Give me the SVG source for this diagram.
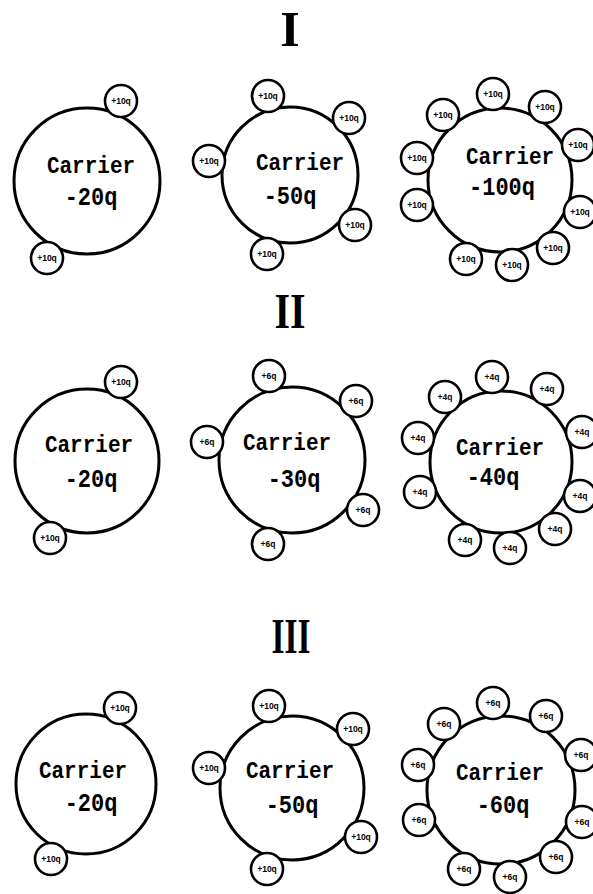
<svg xmlns="http://www.w3.org/2000/svg" width="593" height="894" viewBox="0 0 593 894">
<style>
.big{fill:#fff;stroke:#000;stroke-width:3}
.sm{fill:#fff;stroke:#000;stroke-width:2.6}
.lbl{font-family:"Liberation Mono","DejaVu Sans Mono",monospace;font-weight:bold;font-size:21px;fill:#000;text-anchor:middle}
.num{font-family:"Liberation Mono","DejaVu Sans Mono",monospace;font-weight:bold;font-size:22px;fill:#000;text-anchor:middle}
.q{font-family:"Liberation Sans",Arial,sans-serif;font-weight:bold;font-size:8.5px;fill:#000;text-anchor:middle}
.hdr{font-family:"Liberation Serif","Times New Roman",serif;font-weight:bold;font-size:50px;fill:#000;text-anchor:middle}
</style>
<defs>
<g id="c10"><circle class="sm" r="16"/><text class="q" y="3">+10q</text></g>
<g id="c6"><circle class="sm" r="16"/><text class="q" y="3">+6q</text></g>
<g id="c4"><circle class="sm" r="16"/><text class="q" y="3">+4q</text></g>
</defs>
<rect width="593" height="894" fill="#fff"/>

<text id="hdr1" class="hdr" x="290" y="46">I</text>
<text id="hdr2" class="hdr" x="290" y="328" textLength="31" lengthAdjust="spacingAndGlyphs">II</text>
<text id="hdr3" class="hdr" x="291" y="653" textLength="39" lengthAdjust="spacingAndGlyphs">III</text>

<g id="connectors"/>

<!-- Row I -->
<g id="carrier-1a">
<circle class="big" cx="87" cy="181" r="73"/>
<text class="lbl" transform="translate(91,173) scale(1,1.15)">Carrier</text>
<text class="num" transform="translate(91,205) scale(1,1.15)">-20q</text>
<use href="#c10" x="121" y="101"/>
<use href="#c10" x="47" y="258"/>
</g>
<g id="carrier-1b">
<circle class="big" cx="290" cy="175" r="68"/>
<text class="lbl" transform="translate(300,170) scale(1,1.15)">Carrier</text>
<text class="num" transform="translate(290,204) scale(1,1.15)">-50q</text>
<use href="#c10" x="268" y="96"/>
<use href="#c10" x="349" y="118"/>
<use href="#c10" x="209" y="161"/>
<use href="#c10" x="355" y="225"/>
<use href="#c10" x="267" y="254"/>
</g>
<g id="carrier-1c">
<circle class="big" cx="500" cy="180" r="72"/>
<text class="lbl" transform="translate(510,164) scale(1,1.15)">Carrier</text>
<text class="num" transform="translate(502,195) scale(1,1.15)">-100q</text>
<use href="#c10" x="493" y="94"/>
<use href="#c10" x="545" y="107"/>
<use href="#c10" x="443" y="115"/>
<use href="#c10" x="578" y="145"/>
<use href="#c10" x="417" y="158"/>
<use href="#c10" x="580" y="212"/>
<use href="#c10" x="417" y="205"/>
<use href="#c10" x="553" y="248"/>
<use href="#c10" x="466" y="259"/>
<use href="#c10" x="512" y="265"/>
</g>

<!-- Row II -->
<g id="carrier-2a">
<circle class="big" cx="87" cy="461" r="72"/>
<text class="lbl" transform="translate(89,452) scale(1,1.15)">Carrier</text>
<text class="num" transform="translate(91,487) scale(1,1.15)">-20q</text>
<use href="#c10" x="121" y="382"/>
<use href="#c10" x="50" y="538"/>
</g>
<g id="carrier-2b">
<circle class="big" cx="292" cy="460" r="73"/>
<text class="lbl" transform="translate(287,450) scale(1,1.15)">Carrier</text>
<text class="num" transform="translate(294,487) scale(1,1.15)">-30q</text>
<use href="#c6" x="269" y="376"/>
<use href="#c6" x="356" y="401"/>
<use href="#c6" x="207" y="442"/>
<use href="#c6" x="363" y="510"/>
<use href="#c6" x="268" y="544"/>
</g>
<g id="carrier-2c">
<circle class="big" cx="501" cy="462" r="71"/>
<text class="lbl" transform="translate(500,455) scale(1,1.15)">Carrier</text>
<text class="num" transform="translate(493,485) scale(1,1.15)">-40q</text>
<use href="#c4" x="492" y="377"/>
<use href="#c4" x="547" y="389"/>
<use href="#c4" x="445" y="397"/>
<use href="#c4" x="582" y="432"/>
<use href="#c4" x="418" y="438"/>
<use href="#c4" x="580" y="496"/>
<use href="#c4" x="420" y="492"/>
<use href="#c4" x="555" y="529"/>
<use href="#c4" x="465" y="540"/>
<use href="#c4" x="510" y="548"/>
</g>

<!-- Row III -->
<g id="carrier-3a">
<circle class="big" cx="86" cy="784" r="70"/>
<text class="lbl" transform="translate(83,778) scale(1,1.15)">Carrier</text>
<text class="num" transform="translate(91,811) scale(1,1.15)">-20q</text>
<use href="#c10" x="120" y="708"/>
<use href="#c10" x="51" y="859"/>
</g>
<g id="carrier-3b">
<circle class="big" cx="292" cy="788" r="72"/>
<text class="lbl" transform="translate(290,778) scale(1,1.15)">Carrier</text>
<text class="num" transform="translate(292,813) scale(1,1.15)">-50q</text>
<use href="#c10" x="269" y="706"/>
<use href="#c10" x="353" y="729"/>
<use href="#c10" x="209" y="768"/>
<use href="#c10" x="361" y="837"/>
<use href="#c10" x="267" y="869"/>
</g>
<g id="carrier-3c">
<circle class="big" cx="501" cy="790" r="74"/>
<text class="lbl" transform="translate(500,780) scale(1,1.15)">Carrier</text>
<text class="num" transform="translate(503,813) scale(1,1.15)">-60q</text>
<use href="#c6" x="493" y="703"/>
<use href="#c6" x="546" y="716"/>
<use href="#c6" x="444" y="724"/>
<use href="#c6" x="581" y="755"/>
<use href="#c6" x="418" y="765"/>
<use href="#c6" x="582" y="822"/>
<use href="#c6" x="419" y="820"/>
<use href="#c6" x="556" y="857"/>
<use href="#c6" x="464" y="869"/>
<use href="#c6" x="510" y="877"/>
</g>
</svg>
